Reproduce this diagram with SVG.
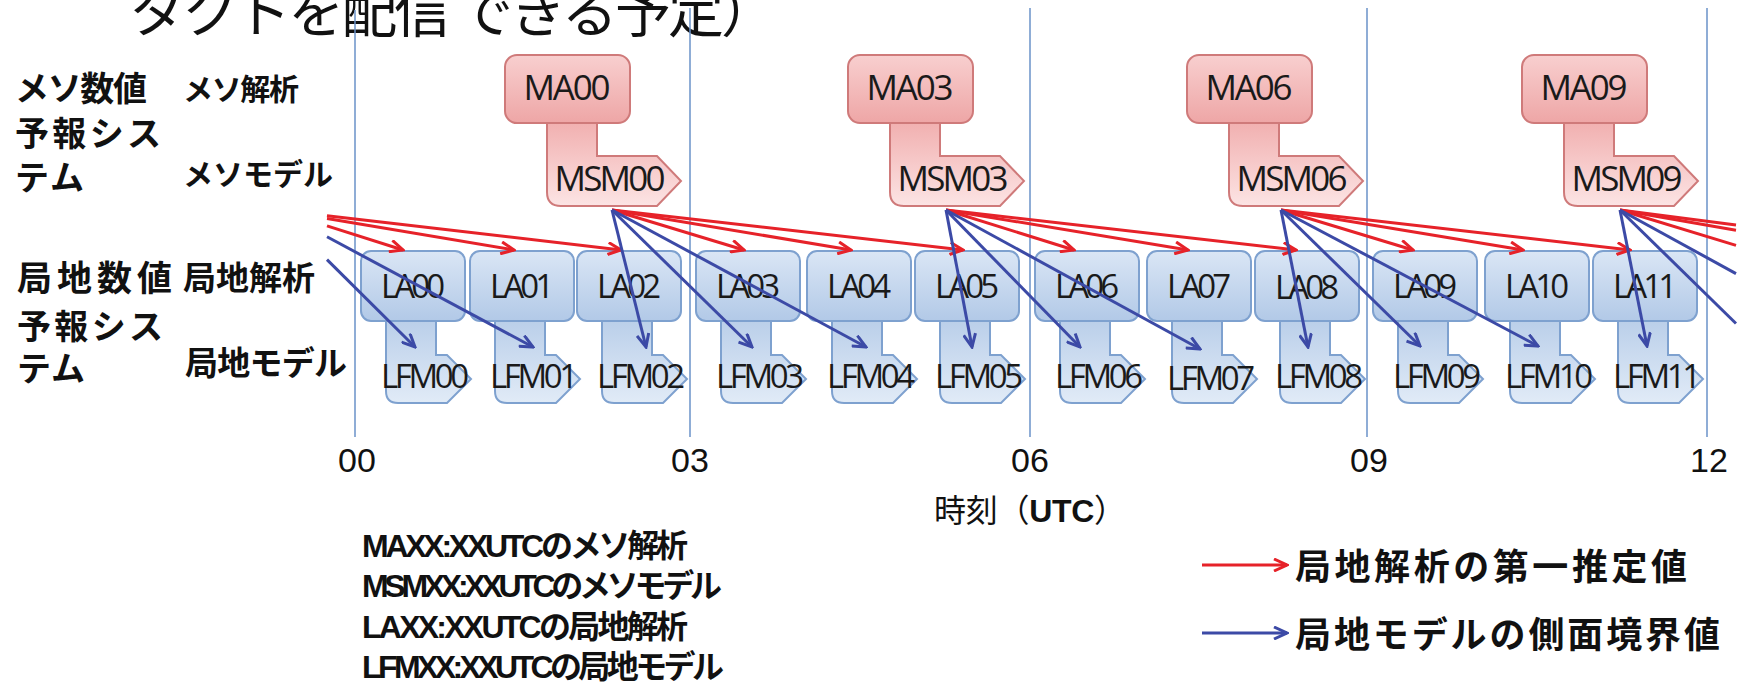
<svg xmlns="http://www.w3.org/2000/svg" width="1740" height="683" viewBox="0 0 1740 683">
<defs>
<style>
.ttl{font-family:"Noto Sans CJK JP","Noto Sans CJK SC",sans-serif;font-size:56px;fill:#111}
.row{font-family:"Noto Sans CJK JP","Noto Sans CJK SC",sans-serif;font-weight:bold;fill:#111}
.lbl{font-family:"Open Sans","Liberation Sans",sans-serif;font-size:33px;fill:#1a1a1a;text-anchor:middle}
.mlbl{font-family:"Open Sans","Liberation Sans",sans-serif;font-size:35px;fill:#1a1a1a;text-anchor:middle}
.tick{font-family:"Liberation Sans",Arial,sans-serif;font-size:34px;fill:#111;text-anchor:middle}
.leg{font-family:"Liberation Sans","Noto Sans CJK JP",sans-serif;font-weight:bold;font-size:32px;fill:#111}
.tl{stroke:#6a92c8;stroke-width:1.5}
.la{fill:url(#gLA);stroke:#7ea1cf;stroke-width:2}
.lfm{fill:url(#gLFM);stroke:#7ea1cf;stroke-width:2}
.ma{fill:url(#gMA);stroke:#cf7a7a;stroke-width:2}
.msm{fill:url(#gMSM);stroke:#cf7a7a;stroke-width:2}
.r{stroke:#e62229;stroke-width:3;fill:none}
.b{stroke:#3c4aa6;stroke-width:3;fill:none}
.ra{marker-end:url(#arR)}
.ba{marker-end:url(#arB)}
</style>
<linearGradient id="gLA" x1="0" y1="0" x2="0" y2="1"><stop offset="0" stop-color="#dae6f5"/><stop offset="1" stop-color="#b2c9e7"/></linearGradient>
<linearGradient id="gLFM" x1="0" y1="0" x2="0" y2="1"><stop offset="0" stop-color="#b9cee9"/><stop offset="1" stop-color="#e1ebf7"/></linearGradient>
<linearGradient id="gMA" x1="0" y1="0" x2="0" y2="1"><stop offset="0" stop-color="#f8cfcf"/><stop offset="1" stop-color="#eea6a6"/></linearGradient>
<linearGradient id="gMSM" x1="0" y1="0" x2="0" y2="1"><stop offset="0" stop-color="#f1afaf"/><stop offset="1" stop-color="#fce4e4"/></linearGradient>
<marker id="arR" viewBox="0 0 16 14" refX="14" refY="7" markerWidth="16" markerHeight="14" orient="auto" markerUnits="userSpaceOnUse"><path d="M1,1 L14,7 L1,13" fill="none" stroke="#e62229" stroke-width="3"/></marker>
<marker id="arB" viewBox="0 0 16 14" refX="14" refY="7" markerWidth="16" markerHeight="14" orient="auto" markerUnits="userSpaceOnUse"><path d="M1,1 L14,7 L1,13" fill="none" stroke="#3c4aa6" stroke-width="3"/></marker>
</defs>
<rect width="1740" height="683" fill="#fff"/>

<text class="ttl" x="129" y="32" textLength="648">タクトを配信 できる予定）</text>

<g id="timeline">
<line class="tl" x1="355" y1="10" x2="355" y2="437"/>
<line class="tl" x1="690" y1="8" x2="690" y2="437"/>
<line class="tl" x1="1030" y1="8" x2="1030" y2="437"/>
<line class="tl" x1="1367" y1="8" x2="1367" y2="437"/>
<line class="tl" x1="1707" y1="8" x2="1707" y2="437"/>
<text class="tick" x="357" y="472">00</text>
<text class="tick" x="690" y="472">03</text>
<text class="tick" x="1030" y="472">06</text>
<text class="tick" x="1369" y="472">09</text>
<text class="tick" x="1709" y="472">12</text>
<text x="1030" y="522" text-anchor="middle" textLength="192" style="font-family:'Liberation Sans','Noto Sans CJK JP',sans-serif;font-size:32px;fill:#111">時刻（<tspan font-weight="bold">UTC</tspan>）</text>
</g>

<g id="row-labels">
<text class="row" x="15" y="101" font-size="34" textLength="132">メソ数値</text>
<text class="row" x="15" y="146" font-size="34" textLength="146">予報シス</text>
<text class="row" x="15" y="190" font-size="34" textLength="69">テム</text>
<text class="row" x="183" y="100" font-size="30" textLength="116">メソ解析</text>
<text class="row" x="183" y="185" font-size="30" textLength="150">メソモデル</text>
<text class="row" x="17" y="291" font-size="35" textLength="155">局地数値</text>
<text class="row" x="17" y="339" font-size="34" textLength="146">予報シス</text>
<text class="row" x="17" y="381" font-size="34" textLength="68">テム</text>
<text class="row" x="183" y="290" font-size="33" textLength="132">局地解析</text>
<text class="row" x="185" y="375" font-size="33" textLength="162">局地モデル</text>
</g>

<g id="MSM00"><path class="msm" d="M547,121 H597 V156 H657 L681,181 L657,206 H561 Q547,206 547,192 Z"/><text class="mlbl" x="610" y="191" textLength="111">MSM00</text></g>
<g id="MA00"><rect class="ma" x="505" y="55" width="125" height="68" rx="12"/><text class="mlbl" x="567" y="100" textLength="87">MA00</text></g>
<g id="MSM03"><path class="msm" d="M890,121 H940 V156 H1000 L1024,181 L1000,206 H904 Q890,206 890,192 Z"/><text class="mlbl" x="953" y="191" textLength="111">MSM03</text></g>
<g id="MA03"><rect class="ma" x="848" y="55" width="125" height="68" rx="12"/><text class="mlbl" x="910" y="100" textLength="87">MA03</text></g>
<g id="MSM06"><path class="msm" d="M1229,121 H1279 V156 H1339 L1363,181 L1339,206 H1243 Q1229,206 1229,192 Z"/><text class="mlbl" x="1292" y="191" textLength="111">MSM06</text></g>
<g id="MA06"><rect class="ma" x="1187" y="55" width="125" height="68" rx="12"/><text class="mlbl" x="1249" y="100" textLength="87">MA06</text></g>
<g id="MSM09"><path class="msm" d="M1564,121 H1614 V156 H1674 L1698,181 L1674,206 H1578 Q1564,206 1564,192 Z"/><text class="mlbl" x="1627" y="191" textLength="111">MSM09</text></g>
<g id="MA09"><rect class="ma" x="1522" y="55" width="125" height="68" rx="12"/><text class="mlbl" x="1584" y="100" textLength="87">MA09</text></g>

<g id="LFM00"><path class="lfm" d="M386,318 H436 V355 H447 L471,379 L447,403 H398 Q386,403 386,391 Z"/><text class="lbl" x="425" y="388" textLength="88">LFM00</text></g>
<g id="LA00"><rect class="la" x="361" y="251" width="104" height="70" rx="10"/><text class="lbl" x="413" y="298" textLength="64">LA00</text></g>
<g id="LFM01"><path class="lfm" d="M495,318 H545 V355 H556 L580,379 L556,403 H507 Q495,403 495,391 Z"/><text class="lbl" x="534" y="388" textLength="88">LFM01</text></g>
<g id="LA01"><rect class="la" x="470" y="251" width="104" height="70" rx="10"/><text class="lbl" x="522" y="298" textLength="64">LA01</text></g>
<g id="LFM02"><path class="lfm" d="M602,318 H652 V355 H663 L687,379 L663,403 H614 Q602,403 602,391 Z"/><text class="lbl" x="641" y="388" textLength="88">LFM02</text></g>
<g id="LA02"><rect class="la" x="577" y="251" width="104" height="70" rx="10"/><text class="lbl" x="629" y="298" textLength="64">LA02</text></g>
<g id="LFM03"><path class="lfm" d="M721,318 H771 V355 H782 L806,379 L782,403 H733 Q721,403 721,391 Z"/><text class="lbl" x="760" y="388" textLength="88">LFM03</text></g>
<g id="LA03"><rect class="la" x="696" y="251" width="104" height="70" rx="10"/><text class="lbl" x="748" y="298" textLength="64">LA03</text></g>
<g id="LFM04"><path class="lfm" d="M832,318 H882 V355 H893 L917,379 L893,403 H844 Q832,403 832,391 Z"/><text class="lbl" x="871" y="388" textLength="88">LFM04</text></g>
<g id="LA04"><rect class="la" x="807" y="251" width="104" height="70" rx="10"/><text class="lbl" x="859" y="298" textLength="64">LA04</text></g>
<g id="LFM05"><path class="lfm" d="M940,318 H990 V355 H1001 L1025,379 L1001,403 H952 Q940,403 940,391 Z"/><text class="lbl" x="979" y="388" textLength="88">LFM05</text></g>
<g id="LA05"><rect class="la" x="915" y="251" width="104" height="70" rx="10"/><text class="lbl" x="967" y="298" textLength="64">LA05</text></g>
<g id="LFM06"><path class="lfm" d="M1060,318 H1110 V355 H1121 L1145,379 L1121,403 H1072 Q1060,403 1060,391 Z"/><text class="lbl" x="1099" y="388" textLength="88">LFM06</text></g>
<g id="LA06"><rect class="la" x="1035" y="251" width="104" height="70" rx="10"/><text class="lbl" x="1087" y="298" textLength="64">LA06</text></g>
<g id="LFM07"><path class="lfm" d="M1172,318 H1222 V355 H1233 L1257,379 L1233,403 H1184 Q1172,403 1172,391 Z"/><text class="lbl" x="1211" y="390" textLength="88">LFM07</text></g>
<g id="LA07"><rect class="la" x="1147" y="251" width="104" height="70" rx="10"/><text class="lbl" x="1199" y="298" textLength="64">LA07</text></g>
<g id="LFM08"><path class="lfm" d="M1280,318 H1330 V355 H1341 L1365,379 L1341,403 H1292 Q1280,403 1280,391 Z"/><text class="lbl" x="1319" y="388" textLength="88">LFM08</text></g>
<g id="LA08"><rect class="la" x="1255" y="251" width="104" height="70" rx="10"/><text class="lbl" x="1307" y="299" textLength="64">LA08</text></g>
<g id="LFM09"><path class="lfm" d="M1398,318 H1448 V355 H1459 L1483,379 L1459,403 H1410 Q1398,403 1398,391 Z"/><text class="lbl" x="1437" y="388" textLength="88">LFM09</text></g>
<g id="LA09"><rect class="la" x="1373" y="251" width="104" height="70" rx="10"/><text class="lbl" x="1425" y="298" textLength="64">LA09</text></g>
<g id="LFM10"><path class="lfm" d="M1510,318 H1560 V355 H1571 L1595,379 L1571,403 H1522 Q1510,403 1510,391 Z"/><text class="lbl" x="1549" y="388" textLength="88">LFM10</text></g>
<g id="LA10"><rect class="la" x="1485" y="251" width="104" height="70" rx="10"/><text class="lbl" x="1537" y="298" textLength="64">LA10</text></g>
<g id="LFM11"><path class="lfm" d="M1618,318 H1668 V355 H1679 L1703,379 L1679,403 H1630 Q1618,403 1618,391 Z"/><text class="lbl" x="1657" y="388" textLength="88">LFM11</text></g>
<g id="LA11"><rect class="la" x="1593" y="251" width="104" height="70" rx="10"/><text class="lbl" x="1645" y="298" textLength="64">LA11</text></g>

<g id="connectors">
<line class="r ra" x1="327" y1="225.9" x2="403" y2="250"/>
<line class="r ra" x1="327" y1="218.4" x2="514" y2="250"/>
<line class="r ra" x1="327" y1="215.8" x2="621" y2="250"/>
<line class="r ra" x1="612" y1="210" x2="744" y2="250"/>
<line class="r ra" x1="612" y1="210" x2="851" y2="250"/>
<line class="r ra" x1="612" y1="210" x2="963" y2="250"/>
<line class="r ra" x1="946" y1="210" x2="1074" y2="250"/>
<line class="r ra" x1="946" y1="210" x2="1188" y2="250"/>
<line class="r ra" x1="946" y1="210" x2="1296" y2="250"/>
<line class="r ra" x1="1281" y1="210" x2="1413" y2="250"/>
<line class="r ra" x1="1281" y1="210" x2="1523" y2="250"/>
<line class="r ra" x1="1281" y1="210" x2="1630" y2="250"/>
<line class="r" x1="1620" y1="210" x2="1736" y2="245.4"/>
<line class="r" x1="1620" y1="210" x2="1736" y2="230.3"/>
<line class="r" x1="1620" y1="210" x2="1736" y2="225"/>
<line class="b ba" x1="327" y1="259.6" x2="415" y2="347"/>
<line class="b ba" x1="327" y1="236.8" x2="533" y2="347"/>
<line class="b ba" x1="612" y1="210" x2="646" y2="347"/>
<line class="b ba" x1="612" y1="210" x2="752" y2="347"/>
<line class="b ba" x1="612" y1="210" x2="866" y2="347"/>
<line class="b ba" x1="946" y1="210" x2="972" y2="347"/>
<line class="b ba" x1="946" y1="210" x2="1080" y2="347"/>
<line class="b ba" x1="946" y1="210" x2="1200" y2="349"/>
<line class="b ba" x1="1281" y1="210" x2="1308" y2="347"/>
<line class="b ba" x1="1281" y1="210" x2="1420" y2="346"/>
<line class="b ba" x1="1281" y1="210" x2="1538" y2="346"/>
<line class="b ba" x1="1620" y1="210" x2="1647" y2="346"/>
<line class="b" x1="1620" y1="210" x2="1736" y2="323.5"/>
<line class="b" x1="1620" y1="210" x2="1736" y2="273.6"/>
</g>

<g id="legend">
<text class="leg" x="362" y="557" textLength="326">MAXX:XXUTCのメソ解析</text>
<text class="leg" x="362" y="597" textLength="360">MSMXX:XXUTCのメソモデル</text>
<text class="leg" x="362" y="638" textLength="326">LAXX:XXUTCの局地解析</text>
<text class="leg" x="362" y="678" textLength="362">LFMXX:XXUTCの局地モデル</text>
<line class="r ra" x1="1202" y1="565" x2="1287" y2="565"/>
<line class="b ba" x1="1202" y1="633" x2="1287" y2="633"/>
<text class="row" x="1295" y="580" font-size="36" textLength="392">局地解析の第一推定値</text>
<text class="row" x="1295" y="648" font-size="36" textLength="425">局地モデルの側面境界値</text>
</g>
</svg>
